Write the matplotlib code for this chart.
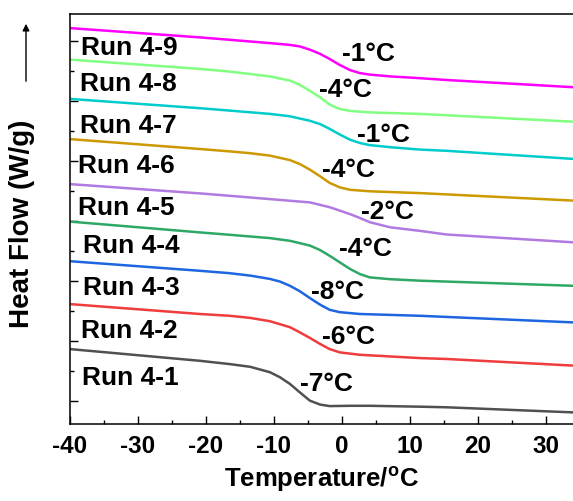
import numpy as np
import matplotlib
matplotlib.use("Agg")
import matplotlib.pyplot as plt
from matplotlib.ticker import MultipleLocator

plt.rcParams['font.family'] = ['Liberation Sans', 'DejaVu Sans']
plt.rcParams['font.weight'] = 'bold'
plt.rcParams['axes.unicode_minus'] = False
plt.rcParams['mathtext.fontset'] = 'custom'
plt.rcParams['mathtext.rm'] = 'Liberation Sans:bold'
plt.rcParams['mathtext.default'] = 'rm'

# curves (temperature in C, heat flow in stacked arbitrary units)
t1 = [-40, -20.9, -16.5, -13.5, -10.6, -9.1, -7.65, -6.2, -4.7, -3.2, -1.8, 1.2, 4.1, 11.5, 15.4, 34]
h1 = [1.73, 1.34, 1.23, 1.14, 0.96, 0.79, 0.57, 0.29, 0.01, -0.12, -0.17, -0.16, -0.16, -0.19, -0.21, -0.38]
t2 = [-40, -20.9, -16.5, -13.5, -10.6, -7.65, -6.2, -4.7, -3.2, -1.8, -0.3, 2.65, 11.5, 15.4, 34]
h2 = [3.23, 2.90, 2.84, 2.77, 2.66, 2.46, 2.29, 2.10, 1.90, 1.73, 1.62, 1.54, 1.43, 1.40, 1.18]
t3 = [-40, -20.9, -16.5, -13.5, -10.6, -9.1, -7.65, -6.2, -4.7, -3.2, -1.8, -0.3, 2.65, 11.5, 34]
h3 = [4.66, 4.34, 4.26, 4.18, 4.07, 3.98, 3.84, 3.66, 3.43, 3.21, 3.04, 2.96, 2.90, 2.84, 2.62]
t4 = [-40, -20.9, -16.5, -10.6, -7.65, -4.7, -3.2, -1.8, -0.3, 1.2, 2.65, 4.1, 7.1, 11.5, 34]
h4 = [5.98, 5.62, 5.54, 5.43, 5.34, 5.18, 5.03, 4.84, 4.62, 4.40, 4.23, 4.12, 4.06, 4.01, 3.84]
t5 = [-40, -20.9, -16.5, -10.6, -4.7, -1.8, 1.2, 2.65, 4.1, 7.1, 11.5, 15.4, 34]
h5 = [7.23, 6.92, 6.84, 6.73, 6.62, 6.46, 6.23, 6.10, 5.96, 5.79, 5.67, 5.55, 5.29]
t6 = [-40, -20.9, -16.5, -13.5, -10.6, -7.65, -6.2, -4.7, -3.2, -1.8, -0.3, 1.2, 4.1, 11.5, 34]
h6 = [8.73, 8.40, 8.32, 8.26, 8.18, 8.03, 7.90, 7.71, 7.49, 7.27, 7.12, 7.04, 6.99, 6.93, 6.68]
t7 = [-40, -20.9, -16.5, -10.6, -7.65, -4.7, -3.2, -1.8, -0.3, 1.2, 2.65, 4.1, 7.1, 11.5, 15.4, 34]
h7 = [10.07, 9.76, 9.68, 9.57, 9.49, 9.34, 9.23, 9.07, 8.88, 8.71, 8.60, 8.53, 8.46, 8.38, 8.34, 8.07]
t8 = [-40, -20.9, -16.5, -13.5, -10.6, -7.65, -6.2, -4.7, -3.2, -1.8, -0.3, 1.2, 4.1, 11.5, 34]
h8 = [11.38, 11.07, 10.98, 10.90, 10.82, 10.68, 10.54, 10.34, 10.12, 9.88, 9.73, 9.67, 9.62, 9.57, 9.31]
t9 = [-40, -20.9, -16.5, -10.6, -7.65, -6.2, -4.7, -3.2, -1.8, -0.3, 1.2, 2.65, 4.1, 7.1, 11.5, 15.4, 34]
h9 = [12.43, 12.12, 12.04, 11.93, 11.87, 11.82, 11.71, 11.57, 11.40, 11.20, 11.03, 10.93, 10.88, 10.82, 10.76, 10.70, 10.46]

runs = ['Run 4-1', 'Run 4-2', 'Run 4-3', 'Run 4-4', 'Run 4-5',
        'Run 4-6', 'Run 4-7', 'Run 4-8', 'Run 4-9']
tg = ['-7°C', '-6°C', '-8°C', '-4°C', '-2°C', '-4°C', '-1°C', '-4°C', '-1°C']
colors = ['#505050', '#F03C3C', '#1E66E0', '#2EA865', '#B07AE0',
          '#CC9900', '#00CCCC', '#80FF80', '#FF00FF']

temps = [t1, t2, t3, t4, t5, t6, t7, t8, t9]
flows = [h1, h2, h3, h4, h5, h6, h7, h8, h9]

# label anchors (data coords)
run_pos = [(-38.24, 0.55), (-38.38, 2.12), (-38.09, 3.58), (-38.09, 4.95),
           (-38.82, 6.22), (-38.82, 7.62), (-38.53, 8.95), (-38.53, 10.35),
           (-38.38, 11.55)]
tg_pos = [(-6.18, 0.37), (-2.94, 1.93), (-4.56, 3.43), (-0.44, 4.87),
          (2.79, 6.10), (-2.94, 7.50), (2.21, 8.67), (-3.38, 10.17),
          (0.0, 11.37)]

fig = plt.figure(figsize=(5.73, 5.02), dpi=100)
ax = fig.add_axes([70 / 573, 77 / 502, 503 / 573, 410 / 502])

for i in range(len(temps)):
    ax.plot(temps[i], flows[i], color=colors[i], lw=1.8, solid_joinstyle='round')
    ax.text(run_pos[i][0], run_pos[i][1], runs[i], fontsize=19,
            fontweight='bold', va='baseline', ha='left')
    ax.text(tg_pos[i][0], tg_pos[i][1], tg[i], fontsize=19,
            fontweight='bold', va='baseline', ha='left')

ax.set_xlim(-40, 34)
ax.set_ylim(-0.767, 12.9)
ax.xaxis.set_major_locator(MultipleLocator(10))
ax.xaxis.set_minor_locator(MultipleLocator(5))
ax.yaxis.set_major_locator(MultipleLocator(2))
ax.yaxis.set_minor_locator(MultipleLocator(1))
ax.tick_params(which='major', direction='in', length=6, width=1)
ax.tick_params(which='minor', direction='in', length=3, width=1)
ax.tick_params(axis='x', labelsize=17.5, pad=7)
ax.tick_params(axis='y', labelleft=False)
for lab in ax.get_xticklabels():
    lab.set_fontweight('bold')
ax.spines['right'].set_visible(False)
for s in ['left', 'bottom', 'top']:
    ax.spines[s].set_linewidth(1.1)

ax.set_xlabel('Temperature/$^{\\mathregular{o}}$C', fontsize=18.5, fontweight='bold', labelpad=5)
ax.set_ylabel('Heat Flow (W/g)', fontsize=20, fontweight='bold')
ax.yaxis.set_label_coords(-0.07, 0.49)

ax.annotate('', xy=(26 / 573, 1 - 22 / 502), xytext=(26 / 573, 1 - 85 / 502),
            xycoords='figure fraction', textcoords='figure fraction',
            arrowprops=dict(arrowstyle='-|>', color='black', lw=1,
                            mutation_scale=10))

fig.savefig('out.png', dpi=100)
